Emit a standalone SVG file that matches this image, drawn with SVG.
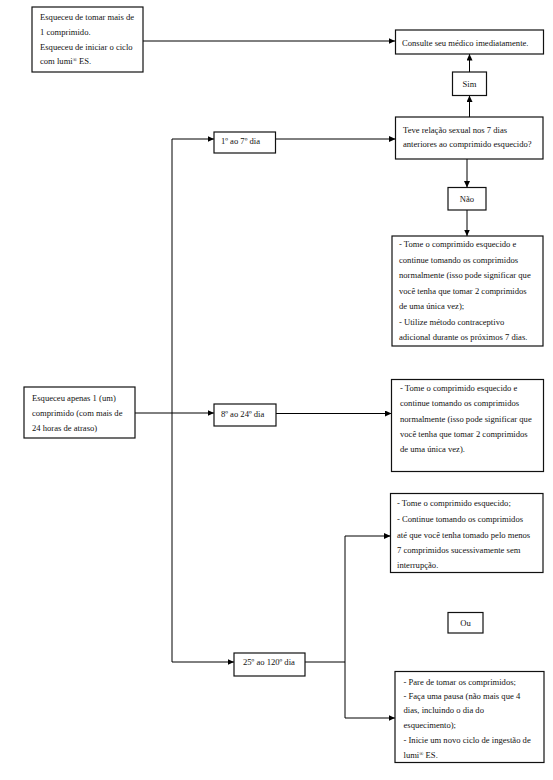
<svg xmlns="http://www.w3.org/2000/svg" width="553" height="780" viewBox="0 0 553 780">
<defs>
<marker id="arr" markerUnits="userSpaceOnUse" markerWidth="7" markerHeight="6" refX="6.5" refY="3" orient="auto">
<path d="M0,0 L6.5,3 L0,6 z" fill="#000"/>
</marker>
</defs>
<style>
rect{fill:#fff;stroke:#111;stroke-width:1.2}
text{font-family:"Liberation Serif","Times New Roman",serif;font-size:8.6px;fill:#111}
.c{text-anchor:middle}
.ln{fill:none;stroke:#000;stroke-width:1}
</style>
<rect width="553" height="780" style="fill:#fff;stroke:none"/>
<g id="connectors">
<path class="ln" d="M143,41 H395" marker-end="url(#arr)"/>
<path class="ln" d="M469.5,72 V54" marker-end="url(#arr)"/>
<path class="ln" d="M469.5,117 V95.5" marker-end="url(#arr)"/>
<path class="ln" d="M172,413 V139 H214" marker-end="url(#arr)"/>
<path class="ln" d="M172,413 V662 H234" marker-end="url(#arr)"/>
<path class="ln" d="M135,413 H214" marker-end="url(#arr)"/>
<path class="ln" d="M275.5,139 H395.5" marker-end="url(#arr)"/>
<path class="ln" d="M467,159 V187.5" marker-end="url(#arr)"/>
<path class="ln" d="M467,210 V236" marker-end="url(#arr)"/>
<path class="ln" d="M276,413.5 H391.5" marker-end="url(#arr)"/>
<path class="ln" d="M305,662 H345" />
<path class="ln" d="M345,662 V536 H390.5" marker-end="url(#arr)"/>
<path class="ln" d="M345,662 V718 H395" marker-end="url(#arr)"/>
</g>
<g id="n-esqueceu-mais">
<rect x="32" y="7" width="111" height="65"/>
<text x="40" y="20">Esqueceu de tomar mais de</text>
<text x="40" y="35">1 comprimido.</text>
<text x="40" y="49.5">Esqueceu de iniciar o ciclo</text>
<text x="40" y="64">com lumi<tspan font-size="5.5" dy="-2.5">®</tspan><tspan dy="2.5"> ES.</tspan></text>
</g>
<g id="n-consulte">
<rect x="395.5" y="30" width="148" height="24"/>
<text x="402" y="45.5">Consulte seu médico imediatamente.</text>
</g>
<g id="n-sim">
<rect x="452.5" y="72" width="34" height="23.5"/>
<text class="c" x="469.5" y="87">Sim</text>
</g>
<g id="n-teve">
<rect x="395.5" y="117" width="147.5" height="42"/>
<text x="403" y="133">Teve relação sexual nos 7 dias</text>
<text x="403" y="147">anteriores ao comprimido esquecido?</text>
</g>
<g id="n-dia1">
<rect x="214" y="132" width="61.5" height="21"/>
<text x="221" y="144">1º ao 7º dia</text>
</g>
<g id="n-nao">
<rect x="448" y="187.5" width="38" height="22.5"/>
<text class="c" x="467" y="202">Não</text>
</g>
<g id="n-acao1">
<rect x="392" y="236" width="151" height="110"/>
<text x="399" y="247">- Tome o comprimido esquecido e</text>
<text x="399" y="262.5">continue tomando os comprimidos</text>
<text x="399" y="278">normalmente (isso pode significar que</text>
<text x="399" y="293.5">você tenha que tomar 2 comprimidos</text>
<text x="399" y="309">de uma única vez);</text>
<text x="399" y="324.5">- Utilize método contraceptivo</text>
<text x="399" y="340">adicional durante os próximos 7 dias.</text>
</g>
<g id="n-esqueceu-um">
<rect x="24" y="387" width="111" height="51"/>
<text x="32" y="400.7">Esqueceu apenas 1 (um)</text>
<text x="32" y="415.7">comprimido (com mais de</text>
<text x="32" y="430.7">24 horas de atraso)</text>
</g>
<g id="n-dia8">
<rect x="214" y="404" width="62" height="22"/>
<text x="221" y="417">8º ao 24º dia</text>
</g>
<g id="n-acao2">
<rect x="391.5" y="379.5" width="152" height="92"/>
<text x="400" y="391">- Tome o comprimido esquecido e</text>
<text x="400" y="406">continue tomando os comprimidos</text>
<text x="400" y="421.5">normalmente (isso pode significar que</text>
<text x="400" y="437">você tenha que tomar 2 comprimidos</text>
<text x="400" y="452">de uma única vez).</text>
</g>
<g id="n-acao3">
<rect x="390.5" y="493.5" width="152.5" height="79"/>
<text x="397" y="506">- Tome o comprimido esquecido;</text>
<text x="397" y="522">- Continue tomando os comprimidos</text>
<text x="397" y="537.5">até que você tenha tomado pelo menos</text>
<text x="397" y="553">7 comprimidos sucessivamente sem</text>
<text x="397" y="568">interrupção.</text>
</g>
<g id="n-ou">
<rect x="448" y="612.5" width="35" height="20.5"/>
<text class="c" x="465.5" y="625.5">Ou</text>
</g>
<g id="n-dia25">
<rect x="234" y="653" width="71" height="23"/>
<text x="243" y="665">25º ao 120º dia</text>
</g>
<g id="n-acao4">
<rect x="395" y="671.5" width="149" height="91"/>
<text x="403.5" y="684.7">- Pare de tomar os comprimidos;</text>
<text x="403.5" y="698.7">- Faça uma pausa (não mais que 4</text>
<text x="403.5" y="713">dias, incluindo o dia do</text>
<text x="403.5" y="728">esquecimento);</text>
<text x="403.5" y="743">- Inicie um novo ciclo de ingestão de</text>
<text x="403.5" y="758">lumi<tspan font-size="5.5" dy="-2.5">®</tspan><tspan dy="2.5"> ES.</tspan></text>
</g>
</svg>
